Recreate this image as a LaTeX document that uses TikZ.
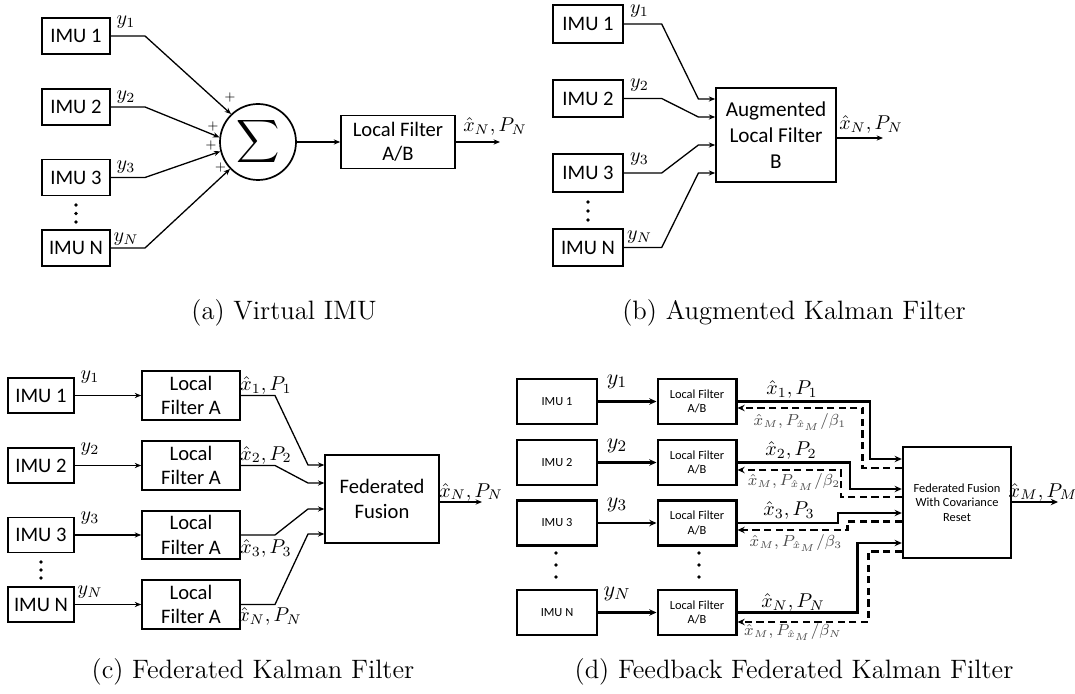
\documentclass[tikz,border=0pt]{standalone}
\usepackage{fontspec}
\usepackage{graphicx}
\usetikzlibrary{arrows.meta}
\newfontfamily\calib{Carlito}

\tikzset{
  blk/.style={draw, line width=0.85pt, inner sep=0pt, align=center,
              font=\calib\fontsize{10.3}{12.2}\selectfont},
  sblk/.style={draw, line width=1.2pt, inner sep=0pt, align=center,
               font=\calib\fontsize{6.2}{7.3}\selectfont},
  wire/.style={line width=0.65pt},
  warrow/.style={wire, -{Stealth[length=3.2pt,width=2.6pt]}},
  fwd/.style={line width=1.2pt, -{Stealth[length=3.6pt,width=3.2pt]}},
  fbk/.style={line width=1.2pt, dash pattern=on 3.6pt off 2.2pt,
              -{Stealth[length=3.6pt,width=3.2pt]}},
  lab/.style={inner sep=0pt, font=\fontsize{10}{12}\selectfont},
  biglab/.style={inner sep=0pt, font=\fontsize{11}{13}\selectfont},
  fblab/.style={inner sep=0pt, text=black!70, font=\fontsize{7.6}{9}\selectfont},
  plussign/.style={inner sep=0pt, font=\fontsize{6.5}{7}\selectfont},
  captxt/.style={inner sep=0pt, font=\fontsize{13.3}{16}\selectfont}
}

\begin{document}
\begin{tikzpicture}[x=0.5pt, y=-0.5pt]
\useasboundingbox (0,0) rectangle (1075,694);

% ---------------- (a) Virtual IMU ----------------
\foreach \i/\y/\t in {1/36/IMU 1, 2/107/IMU 2, 3/177.5/IMU 3, 4/248/IMU N}
  \node[blk, minimum width=33.7pt, minimum height=18pt] (a\i) at (76,\y) {\t};
\node[draw, circle, line width=0.85pt, inner sep=0pt, minimum size=38pt] (sum) at (258,142)
  {\scalebox{1.5}{$\displaystyle\sum$}};
\node[blk, minimum width=57pt, minimum height=26.5pt] (lfa) at (398,142) {Local Filter\\A/B};
\coordinate (aout) at (500,142);

\draw[warrow] (a1.east) -- (145,36) -- (sum.134);
\draw[warrow] (a2.east) -- (145,107) -- (sum.173);
\draw[warrow] (a3.east) -- (145,177.5) -- (sum.194);
\draw[warrow] (a4.east) -- (145,248) -- (sum.224);
\draw[warrow] (sum.east) -- (lfa.west);
\draw[warrow] (lfa.east) -- (aout);

\node[plussign] (ap1) at (230,98) {$+$};
\node[plussign] (ap2) at (213,127) {$+$};
\node[plussign] (ap3) at (211,146) {$+$};
\node[plussign] (ap4) at (220.5,168) {$+$};

\node[lab] (ay1) at (126,22) {$y_1$};
\node[lab] (ay2) at (126,97) {$y_2$};
\node[lab] (ay3) at (126,167) {$y_3$};
\node[lab] (ayn) at (126,239) {$y_N$};
\node[lab] (aol) at (495,127) {$\hat{x}_N, P_N$};
\foreach \yy in {205,213.5,222} \fill (76,\yy) circle (0.9pt);

\node[captxt] (capa) at (284,313) {(a) Virtual IMU};

% ---------------- (b) Augmented Kalman Filter ----------------
\foreach \i/\y/\t in {1/24/IMU 1, 2/98.5/IMU 2, 3/173/IMU 3, 4/247.5/IMU N}
  \node[blk, minimum width=35.3pt, minimum height=18.8pt] (b\i) at (588,\y) {\t};
\node[blk, minimum width=60pt, minimum height=47pt,
      font=\calib\fontsize{10.6}{13}\selectfont] (aug) at (776,135)
  {Augmented\\Local Filter\\B};
\coordinate (bout) at (883,138);

\draw[warrow] (b1.east) -- (661.7,24) -- (698.4,99) -- (aug.west |- 0,99);
\draw[warrow] (b2.east) -- (661.7,98.5) -- (698.4,117) -- (aug.west |- 0,117);
\draw[warrow] (b3.east) -- (661.7,173) -- (698.4,145) -- (aug.west |- 0,145);
\draw[warrow] (b4.east) -- (661.7,247.5) -- (698.4,173) -- (aug.west |- 0,173);
\draw[warrow] (aug.east |- bout) -- (bout);

\node[lab] (by1) at (639.5,11) {$y_1$};
\node[lab] (by2) at (639.5,85) {$y_2$};
\node[lab] (by3) at (639.5,159) {$y_3$};
\node[lab] (byn) at (639.5,237) {$y_N$};
\node[lab] (bol) at (871,125) {$\hat{x}_N, P_N$};
\foreach \yy in {202,211,220} \fill (588,\yy) circle (0.9pt);

\node[captxt] (capb) at (794,313) {(b) Augmented Kalman Filter};

% ---------------- (c) Federated Kalman Filter ----------------
\foreach \i/\y/\t in {1/395.5/IMU 1, 2/465.5/IMU 2, 3/535/IMU 3, 4/604.5/IMU N}
  \node[blk, minimum width=32.8pt, minimum height=17.5pt] (c\i) at (41,\y) {\t};
\foreach \i/\y in {1/395.5, 2/465.5, 3/535, 4/604.5}
  \node[blk, minimum width=49pt, minimum height=24.3pt] (lc\i) at (191,\y) {Local\\Filter A};
\node[blk, minimum width=56.8pt, minimum height=44pt] (ffc) at (382,499) {Federated\\Fusion};
\coordinate (cout) at (482,502);

\foreach \i in {1,2,3,4}
  \draw[warrow] (c\i.east) -- (lc\i.west);
\draw[warrow] (lc1.east) -- (275,395.5) -- (308,465) -- (ffc.west |- 0,465);
\draw[warrow] (lc2.east) -- (275,465.5) -- (308,483) -- (ffc.west |- 0,483);
\draw[warrow] (lc3.east) -- (275,535) -- (308,509) -- (ffc.west |- 0,509);
\draw[warrow] (lc4.east) -- (275,604.5) -- (308,534) -- (ffc.west |- 0,534);
\draw[warrow] (ffc.east |- cout) -- (cout);

\node[lab] (cy1) at (90,377) {$y_1$};
\node[lab] (cy2) at (90,449) {$y_2$};
\node[lab] (cy3) at (90,518) {$y_3$};
\node[lab] (cyn) at (90,592) {$y_N$};
\node[lab] (cl1) at (266,386) {$\hat{x}_1, P_1$};
\node[lab] (cl2) at (266,455) {$\hat{x}_2, P_2$};
\node[lab] (cl3) at (266,548) {$\hat{x}_3, P_3$};
\node[lab] (cl4) at (270,616) {$\hat{x}_N, P_N$};
\node[lab] (col) at (471,492) {$\hat{x}_N, P_N$};
\foreach \yy in {562,570,578} \fill (41,\yy) circle (0.9pt);

\node[captxt] (capc) at (253,672) {(c) Federated Kalman Filter};

% ---------------- (d) Feedback Federated Kalman Filter ----------------
\foreach \i/\y/\t in {1/401.5/IMU 1, 2/462.5/IMU 2, 3/523/IMU 3, 4/612.5/IMU N}
  \node[sblk, minimum width=39.8pt, minimum height=22.5pt] (d\i) at (557,\y) {\t};
\foreach \i/\y in {1/401.5, 2/462.5, 3/523, 4/612.5}
  \node[sblk, minimum width=39.3pt, minimum height=22.5pt] (ld\i) at (697,\y) {Local Filter\\A/B};
\node[sblk, minimum width=54pt, minimum height=55.5pt] (ffd) at (957,502.5)
  {Federated Fusion\\With Covariance\\Reset};
\coordinate (dout) at (1058,502);

\foreach \i in {1,2,3,4}
  \draw[fwd] (d\i.east) -- (ld\i.west);

% estimates sent to the fusion block
\draw[fwd] (ld1.east) -| (870,459) -- (ffd.west |- 0,459);
\draw[fwd] (ld2.east) -| (850,489) -- (ffd.west |- 0,489);
\draw[fwd] (ld3.east) -| (838,513) -- (ffd.west |- 0,513);
\draw[fwd] (ld4.east) -| (857.5,543) -- (ffd.west |- 0,543);
\draw[fwd] (ffd.east |- dout) -- (dout);

% reset information fed back to the local filters
\draw[fbk] (ffd.west |- 0,468) -| (862.5,408) -- (ld1.east |- 0,408);
\draw[fbk] (ffd.west |- 0,497) -| (841,470) -- (ld2.east |- 0,470);
\draw[fbk] (ffd.west |- 0,521.5) -| (847.5,530) -- (ld3.east |- 0,530);
\draw[fbk] (ffd.west |- 0,551.5) -| (868.5,622) -- (ld4.east |- 0,622);

\node[biglab] (dy1) at (617,382) {$y_1$};
\node[biglab] (dy2) at (617,446) {$y_2$};
\node[biglab] (dy3) at (617,505) {$y_3$};
\node[biglab] (dyn) at (617,594) {$y_N$};
\node[lab] (dl1) at (792,390) {$\hat{x}_1, P_1$};
\node[lab] (dl2) at (791,451) {$\hat{x}_2, P_2$};
\node[lab] (dl3) at (789,511) {$\hat{x}_3, P_3$};
\node[lab] (dl4) at (793,602) {$\hat{x}_N, P_N$};
\node[fblab] (df1) at (800,422) {$\hat{x}_M, P_{\hat{x}_M}/\beta_1$};
\node[fblab] (df2) at (794,482) {$\hat{x}_M, P_{\hat{x}_M}/\beta_2$};
\node[fblab] (df3) at (796,543) {$\hat{x}_M, P_{\hat{x}_M}/\beta_3$};
\node[fblab] (df4) at (793,632) {$\hat{x}_M, P_{\hat{x}_M}/\beta_N$};
\node[lab] (dol) at (1043,492) {$\hat{x}_M, P_M$};
\foreach \yy in {553,565,577} {
  \fill (556,\yy) circle (0.9pt);
  \fill (699,\yy) circle (0.9pt);
}

\node[captxt] (capd) at (794,672) {(d) Feedback Federated Kalman Filter};
\end{tikzpicture}
\end{document}
